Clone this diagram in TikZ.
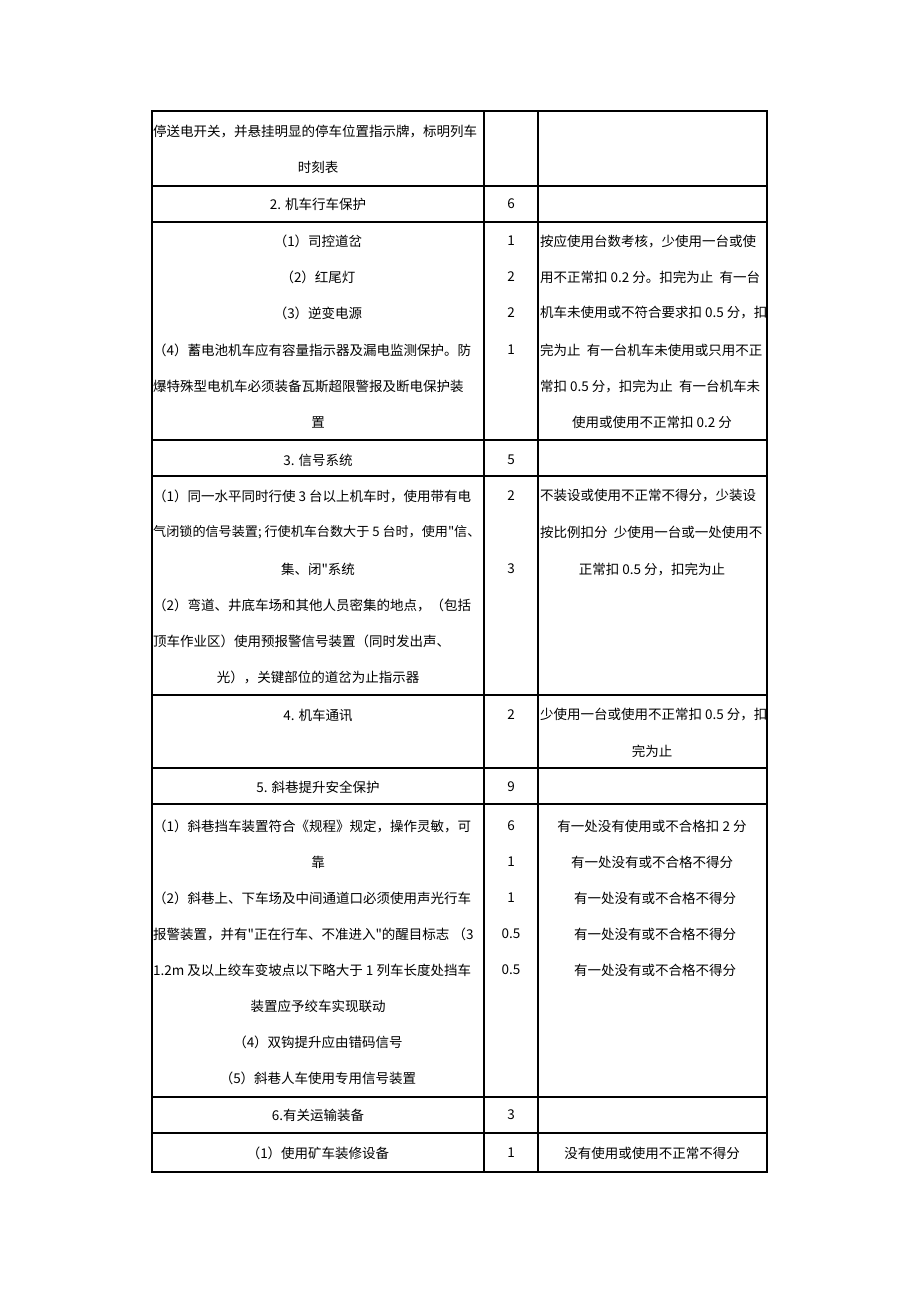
\documentclass[tikz,border=0pt]{standalone}
\usepackage{fontspec}
\setmainfont{Noto Sans CJK SC}[Ligatures=TeXOff]
\begin{document}
\begin{tikzpicture}[x=1pt,y=-1pt,
  tx/.style={inner sep=0pt, font=\fontsize{13.5}{16}\selectfont},
  lt/.style={tx, anchor=west},
  grid/.style={line width=1.2pt, black}]
\useasboundingbox (0,0) rectangle (920,1302);
% table lines
\draw[grid] (152,111) rectangle (767,1172);
\draw[grid] (484,111) -- (484,1172);
\draw[grid] (538,111) -- (538,1172);
\foreach \yy in {186,222,440,476,695,768,804,1097,1133}
  \draw[grid] (152,\yy) -- (767,\yy);
% Row A
\node[lt] (a1) at (153,131) {停送电开关，并悬挂明显的停车位置指示牌，标明列车};
\node[tx] (a2) at (318,167) {时刻表};
% Row B
\node[tx] (b1) at (318,204) {2. 机车行车保护};
\node[tx] (b2) at (511,204) {6};
% Row C
\node[tx] (c1) at (318,241) {（1）司控道岔};
\node[tx] (c2) at (318,277) {（2）红尾灯};
\node[tx] (c3) at (318,313) {（3）逆变电源};
\node[lt] (c4) at (153,350) {（4）蓄电池机车应有容量指示器及漏电监测保护。防};
\node[lt] (c5) at (153,386) {爆特殊型电机车必须装备瓦斯超限警报及断电保护装};
\node[tx] (c6) at (318,422) {置};
\node[tx] (cs1) at (511,241) {1};
\node[tx] (cs2) at (511,277) {2};
\node[tx] (cs3) at (511,313) {2};
\node[tx] (cs4) at (511,350) {1};
\node[lt] (cr1) at (540,241) {按应使用台数考核，少使用一台或使};
\node[lt] (cr2) at (540,277) {用不正常扣 0.2 分。扣完为止\ \ 有一台};
\node[lt] (cr3) at (540,313) {机车未使用或不符合要求扣 0.5 分，扣};
\node[lt] (cr4) at (540,350) {完为止\ \ 有一台机车未使用或只用不正};
\node[lt] (cr5) at (540,386) {常扣 0.5 分，扣完为止\ \ 有一台机车未};
\node[tx] (cr6) at (652,422) {使用或使用不正常扣 0.2 分};
% Row D
\node[tx] (d1) at (318,460) {3. 信号系统};
\node[tx] (d2) at (511,460) {5};
% Row E
\node[lt] (e1) at (153,496) {（1）同一水平同时行使 3 台以上机车时，使用带有电};
\node[lt, font=\fontsize{13.1}{16}\selectfont] (e2) at (153,532) {气闭锁的信号装置; 行使机车台数大于 5 台时，使用"信、};
\node[tx] (e3) at (318,569) {集、闭"系统};
\node[lt] (e4) at (153,605) {（2）弯道、井底车场和其他人员密集的地点，（包括};
\node[lt] (e5) at (153,641) {顶车作业区）使用预报警信号装置（同时发出声、};
\node[tx] (e6) at (318,677) {光），关键部位的道岔为止指示器};
\node[tx] (es1) at (511,496) {2};
\node[tx] (es2) at (511,569) {3};
\node[lt] (er1) at (540,496) {不装设或使用不正常不得分，少装设};
\node[lt] (er2) at (540,532) {按比例扣分\ \ 少使用一台或一处使用不};
\node[tx] (er3) at (652,569) {正常扣 0.5 分，扣完为止};
% Row F
\node[tx] (f1) at (318,715) {4. 机车通讯};
\node[tx] (f2) at (511,715) {2};
\node[lt] (fr1) at (540,715) {少使用一台或使用不正常扣 0.5 分，扣};
\node[tx] (fr2) at (652,751) {完为止};
% Row G
\node[tx] (g1) at (318,787) {5. 斜巷提升安全保护};
\node[tx] (g2) at (511,787) {9};
% Row H
\node[lt] (h1) at (153,826) {（1）斜巷挡车装置符合《规程》规定，操作灵敏，可};
\node[tx] (h2) at (318,862) {靠};
\node[lt] (h3) at (153,898) {（2）斜巷上、下车场及中间通道口必须使用声光行车};
\node[lt] (h4) at (153,934) {报警装置，并有"正在行车、不准进入"的醒目标志\ （3};
\node[lt] (h5) at (153,970) {1.2m 及以上绞车变坡点以下略大于 1 列车长度处挡车};
\node[tx] (h6) at (318,1006) {装置应予绞车实现联动};
\node[tx] (h7) at (318,1042) {（4）双钩提升应由错码信号};
\node[tx] (h8) at (318,1078) {（5）斜巷人车使用专用信号装置};
\node[tx] (hs1) at (511,826) {6};
\node[tx] (hs2) at (511,862) {1};
\node[tx] (hs3) at (511,898) {1};
\node[tx] (hs4) at (511,934) {0.5};
\node[tx] (hs5) at (511,970) {0.5};
\node[tx] (hr1) at (652,826) {有一处没有使用或不合格扣 2 分};
\node[tx] (hr2) at (652,862) {有一处没有或不合格不得分};
\node[tx] (hr3) at (655,898) {有一处没有或不合格不得分};
\node[tx] (hr4) at (655,934) {有一处没有或不合格不得分};
\node[tx] (hr5) at (655,970) {有一处没有或不合格不得分};
% Row I
\node[tx] (i1) at (318,1115) {6.有关运输装备};
\node[tx] (i2) at (511,1115) {3};
% Row J
\node[tx] (j1) at (318,1153) {（1）使用矿车装修设备};
\node[tx] (j2) at (511,1153) {1};
\node[tx] (j3) at (652,1153) {没有使用或使用不正常不得分};
\end{tikzpicture}
\end{document}
